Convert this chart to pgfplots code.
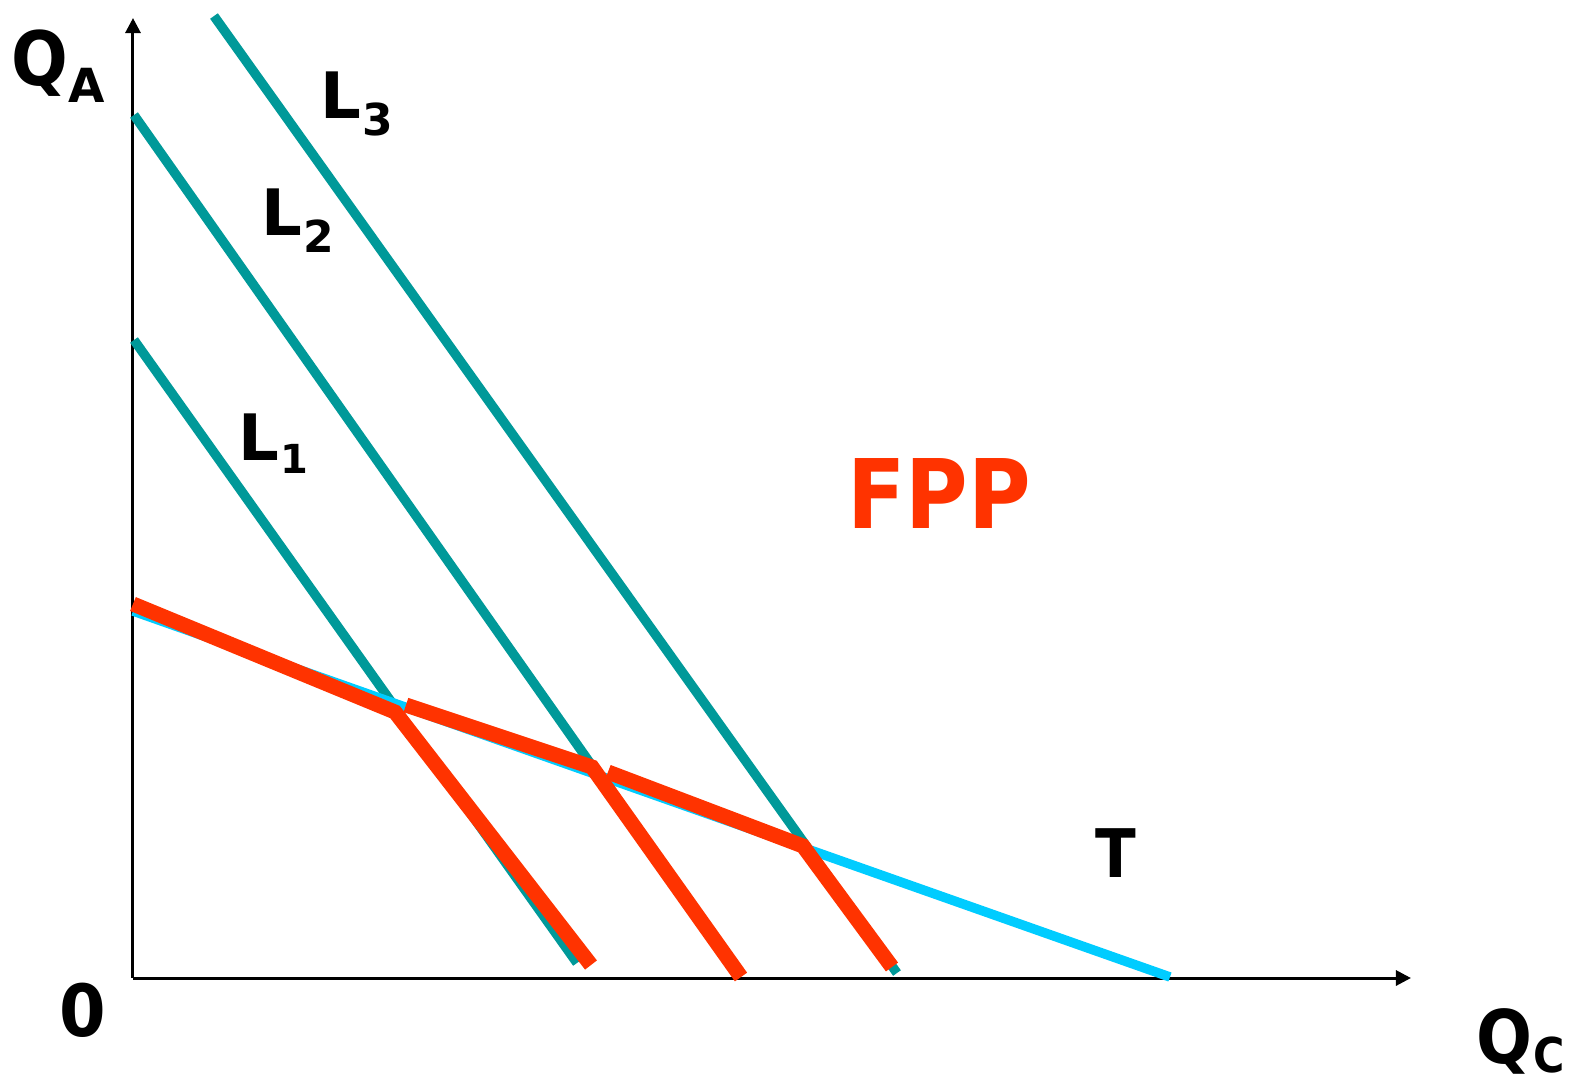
\documentclass[border=0pt]{standalone}
\usepackage{fontspec}
\setmainfont{DejaVu Sans}
\newfontfamily\cond[FakeStretch=0.89]{DejaVu Sans}
\newfontfamily\condb[FakeStretch=0.93]{DejaVu Sans}
\usepackage{pgfplots}
\pgfplotsset{compat=1.18}
\usetikzlibrary{arrows.meta}
\definecolor{lteal}{HTML}{009999}
\definecolor{tcyan}{HTML}{00CCFF}
\definecolor{fppred}{HTML}{FF3300}
\newcommand\fs[1]{\fontsize{#1}{#1}\selectfont\bfseries}
\begin{document}
\begin{tikzpicture}
\path[use as bounding box] (0,0) rectangle (787.5bp,540.5bp);
\begin{axis}[
  at={(0,0)}, anchor=south west,
  x=0.5bp, y=0.5bp, y dir=reverse,
  xmin=0, xmax=1575, ymin=0, ymax=1081,
  hide axis, clip=false, scale only axis, no markers,
  every axis plot/.append style={line cap=butt, line join=miter},
]
% axes
\addplot[black, line width=1.5bp, -{Triangle[length=7.5bp,width=7.5bp]}] coordinates {(133,978) (133,18)};
\addplot[black, line width=1.5bp, -{Triangle[length=7.5bp,width=7.5bp]}] coordinates {(133,978) (1411,978)};
% L lines
\addplot[lteal, line width=4.75bp] coordinates {(214,16) (897,973)};
\addplot[lteal, line width=4.75bp] coordinates {(134,115) (740,976)};
\addplot[lteal, line width=4.75bp] coordinates {(134,340) (577,963)};
% T
\addplot[tcyan, line width=4.75bp] coordinates {(133,611) (1170,977)};
% FPP
\addplot[fppred, line width=7.5bp] coordinates {(133,604) (395,712) (591,965)};
\addplot[fppred, line width=7.5bp] coordinates {(406,705) (592,767) (741,977)};
\addplot[fppred, line width=7.5bp] coordinates {(608,772) (803,846) (892,967)};
% labels
\node[anchor=base west, inner sep=0] at (axis cs:11,85) {\cond\fs{37.5bp}Q\normalfont\fs{23.5bp}\raisebox{-8.5bp}{A}};
\node[anchor=base west, inner sep=0] at (axis cs:320,118) {\fs{32bp}L\kern0.5bp\fs{22bp}\raisebox{-8.5bp}{3}};
\node[anchor=base west, inner sep=0] at (axis cs:261,235) {\fs{32bp}L\kern0.5bp\fs{22bp}\raisebox{-8.5bp}{2}};
\node[anchor=base west, inner sep=0] at (axis cs:238,460) {\fs{32bp}L\kern0.5bp\fs{20bp}\raisebox{-6.5bp}{1}};
\node[anchor=base, inner sep=0, text=fppred] at (axis cs:939,528) {\cond\fs{48bp}FPP};
\node[anchor=base, inner sep=0] at (axis cs:1116,877) {\cond\fs{33.5bp}T};
\node[anchor=base, inner sep=0] at (axis cs:82.5,1036) {\condb\fs{36bp}0};
\node[anchor=base west, inner sep=0] at (axis cs:1476,1063) {\cond\fs{37bp}Q\kern0.5bp\fs{24bp}\raisebox{-4.5bp}{C}};
\end{axis}
\end{tikzpicture}
\end{document}
